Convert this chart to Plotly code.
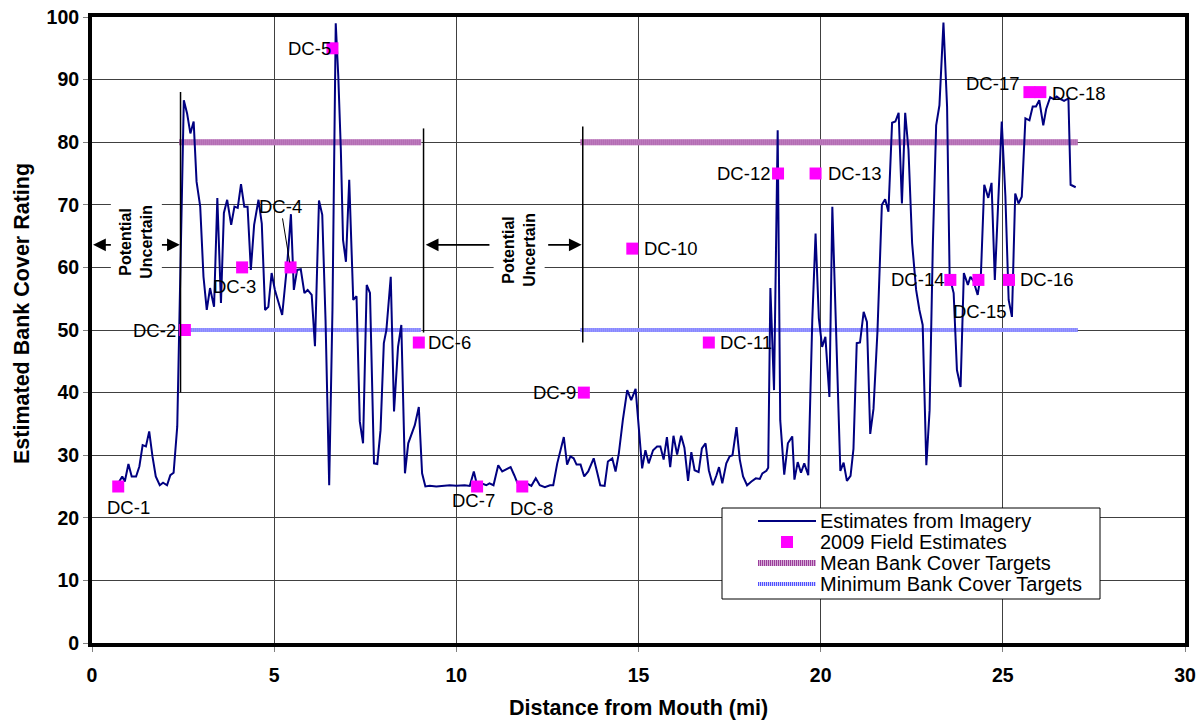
import plotly.graph_objects as go

# Bank cover estimates derived from imagery, by river mile
imagery_mi = [
    0.72, 0.83, 0.90, 1.00, 1.09, 1.21, 1.30, 1.39, 1.48, 1.57, 1.66, 1.75, 1.86, 1.95, 2.06,
    2.15, 2.24, 2.34, 2.52, 2.61, 2.70, 2.79, 2.87, 2.97, 3.06, 3.15, 3.24, 3.35, 3.44, 3.54,
    3.62, 3.71, 3.82, 3.91, 4.00, 4.09, 4.18, 4.27, 4.36, 4.45, 4.57, 4.66, 4.75, 4.84, 4.93,
    5.02, 5.11, 5.22, 5.36, 5.46, 5.54, 5.63, 5.73, 5.83, 5.92, 6.03, 6.12, 6.23, 6.32, 6.41,
    6.51, 6.60, 6.69, 6.76, 6.83, 6.89, 6.97, 7.06, 7.17, 7.26, 7.35, 7.44, 7.54, 7.63, 7.74,
    7.83, 7.92, 8.01, 8.08, 8.20, 8.29, 8.40, 8.49, 8.59, 8.68, 8.77, 8.86, 8.97, 9.06, 9.15,
    9.27, 9.45, 9.64, 9.82, 10.00, 10.23, 10.37, 10.48, 10.57, 10.69, 10.82, 10.91, 11.02, 11.15,
    11.26, 11.38, 11.49, 11.59, 11.68, 11.79, 11.93, 12.06, 12.18, 12.29, 12.43, 12.57, 12.66,
    12.77, 12.84, 12.95, 13.04, 13.13, 13.22, 13.30, 13.41, 13.51, 13.62, 13.77, 13.86, 13.95,
    14.07, 14.16, 14.28, 14.37, 14.46, 14.57, 14.69, 14.80, 14.92, 15.01, 15.10, 15.19, 15.28,
    15.40, 15.51, 15.60, 15.69, 15.78, 15.87, 15.96, 16.06, 16.17, 16.26, 16.36, 16.45, 16.54,
    16.65, 16.74, 16.84, 16.93, 17.04, 17.14, 17.21, 17.30, 17.41, 17.50, 17.58, 17.69, 17.78,
    17.87, 17.98, 18.10, 18.22, 18.33, 18.40, 18.51, 18.56, 18.62, 18.72, 18.82, 18.89, 19.00,
    19.10, 19.22, 19.28, 19.37, 19.46, 19.55, 19.66, 19.77, 19.86, 19.95, 20.04, 20.13, 20.24,
    20.32, 20.41, 20.54, 20.63, 20.72, 20.82, 20.90, 20.99, 21.08, 21.18, 21.27, 21.36, 21.45,
    21.56, 21.68, 21.77, 21.86, 21.96, 22.05, 22.14, 22.23, 22.32, 22.41, 22.51, 22.62, 22.71,
    22.80, 22.90, 22.99, 23.08, 23.17, 23.26, 23.37, 23.47, 23.54, 23.65, 23.74, 23.84, 23.93,
    24.04, 24.11, 24.19, 24.31, 24.40, 24.49, 24.60, 24.69, 24.78, 24.87, 24.97, 25.07, 25.16,
    25.25, 25.34, 25.43, 25.52, 25.62, 25.73, 25.82, 25.91, 26.00, 26.11, 26.19, 26.30, 26.39,
    26.48, 26.57, 26.68, 26.80, 26.86, 27.00,
]
imagery_rating = [
    25.5, 26.6, 25.8, 28.6, 26.6, 26.6, 28.2, 31.6, 31.4, 33.8, 29.8, 26.6, 25.2, 25.6, 25.2,
    26.8, 27.2, 34.6, 86.7, 84.6, 81.4, 83.3, 73.7, 69.7, 58.5, 53.2, 56.7, 53.7, 71.1, 54.3,
    68.7, 70.8, 66.8, 69.7, 69.5, 73.3, 69.7, 69.7, 59.6, 66.8, 70.8, 67.0, 53.2, 53.7, 59.1,
    56.4, 54.6, 52.4, 60.7, 68.5, 56.4, 59.6, 59.7, 55.9, 56.4, 55.6, 47.4, 70.7, 68.4, 51.6,
    25.2, 53.2, 99.0, 90.5, 78.8, 64.4, 60.9, 74.0, 54.8, 55.4, 35.4, 31.9, 57.2, 55.9, 28.7,
    28.6, 34.0, 47.9, 50.0, 58.5, 37.0, 47.3, 50.8, 27.1, 31.9, 33.5, 34.8, 37.7, 27.1, 25.0,
    25.1, 25.0, 25.1, 25.2, 25.1, 25.2, 25.1, 27.4, 25.2, 25.5, 25.2, 25.5, 25.2, 28.4,
    27.4, 27.8, 28.1, 26.8, 25.5, 25.2, 25.5, 25.1, 26.3, 25.2, 24.9, 25.2, 25.2,
    28.7, 30.3, 32.9, 28.5, 29.8, 29.5, 28.5, 28.5, 26.6, 27.4, 29.5, 27.4, 25.2,
    25.1, 29.0, 29.5, 27.4, 30.3, 35.6, 40.4, 38.8, 40.6, 34.0, 27.9, 30.8, 28.7,
    30.8, 31.4, 31.4, 29.3, 32.9, 28.1, 33.1, 30.1, 33.1, 31.2, 25.9, 30.5, 27.6,
    27.3, 31.1, 31.9, 27.6, 25.2, 26.8, 28.1, 25.5, 28.7, 29.8, 30.0, 34.5, 29.3,
    26.6, 25.2, 25.8, 26.3, 26.2, 27.1, 27.5, 28.0, 56.7, 40.4, 81.9, 35.6, 26.9,
    31.9, 33.0, 26.1, 28.9, 27.2, 28.7, 26.8, 51.6, 65.4, 51.9, 47.3, 48.9, 39.3,
    69.7, 52.7, 27.5, 28.8, 25.9, 26.7, 31.0, 47.9, 48.0, 52.9, 51.3, 33.4, 37.4,
    49.9, 70.0, 70.9, 68.9, 83.1, 83.3, 84.7, 70.2, 84.7, 78.8, 63.9, 56.4, 53.2,
    50.8, 28.4, 37.2, 63.9, 82.7, 85.9, 99.1, 85.6, 58.5, 55.9, 43.6, 40.9, 59.1,
    57.2, 58.5, 57.9, 55.6, 59.1, 73.2, 71.1, 73.5, 58.0, 69.2, 83.3, 71.4, 54.8,
    52.1, 71.8, 70.2, 71.3, 83.8, 83.5, 85.7, 85.7, 86.7, 82.7, 85.3, 87.2, 86.9,
    87.3, 86.9, 86.6, 87.0, 73.2, 72.8,
]

# 2009 field estimates
field_sites = ["DC-1", "DC-2", "DC-3", "DC-4", "DC-5", "DC-6", "DC-7", "DC-8", "DC-9",
               "DC-10", "DC-11", "DC-12", "DC-13", "DC-14", "DC-15", "DC-16", "DC-17", "DC-18"]
field_mi = [0.72, 2.55, 4.12, 5.45, 6.60, 8.97, 10.57, 11.81, 13.50,
            14.83, 16.93, 18.83, 19.86, 23.56, 24.33, 25.17, 25.73, 26.03]
field_rating = [25, 50, 60, 60, 95, 48, 25, 25, 40,
                63, 48, 75, 75, 58, 58, 58, 88, 88]

# Target reaches and levels
target_reaches = [(2.40, 9.04), (13.41, 27.05)]
mean_target = 80
min_target = 50

# Extent of the uncertain reaches (mi) and the rating range of their boundary lines
uncertain_bounds = [(2.43, 40, 88), (9.10, 49.6, 82.2), (13.47, 48, 82.5)]
uncertain_arrows = [(0.58, 0.03), (1.87, 2.41), (10.95, 9.16), (12.48, 13.44)]
uncertain_labels = [(1.21, 64.1), (11.72, 62.8)]
arrow_level = 63.6

FONT = "Liberation Sans, Arial, sans-serif"
MEAN_BASE, MEAN_DOT = "#D6AAD6", "#9A3D9A"
MIN_BASE, MIN_DOT = "#CFCFFF", "#5050FF"

L, R, T, B = 92, 16, 17, 78
W, H = 1201, 721

fig = go.Figure()


def reach_series(level):
    xs, ys = [], []
    for a, b in target_reaches:
        xs += [a, b, None]
        ys += [level, level, None]
    return xs, ys


mx, my = reach_series(mean_target)
nx, ny = reach_series(min_target)
fig.add_trace(go.Scatter(x=mx, y=my, mode="lines", line=dict(color=MEAN_BASE, width=6),
                         hoverinfo="skip", showlegend=False))
fig.add_trace(go.Scatter(x=mx, y=my, mode="lines",
                         line=dict(color=MEAN_DOT, width=6, dash="1px,1px"),
                         name="Mean Bank Cover Targets", showlegend=False))
fig.add_trace(go.Scatter(x=nx, y=ny, mode="lines", line=dict(color=MIN_BASE, width=4),
                         hoverinfo="skip", showlegend=False))
fig.add_trace(go.Scatter(x=nx, y=ny, mode="lines",
                         line=dict(color=MIN_DOT, width=4, dash="1px,1px"),
                         name="Minimum Bank Cover Targets", showlegend=False))

fig.add_trace(go.Scatter(x=imagery_mi, y=imagery_rating, mode="lines",
                         line=dict(color="#000080", width=2),
                         name="Estimates from Imagery", showlegend=False))
fig.add_trace(go.Scatter(x=field_mi, y=field_rating, mode="markers",
                         marker=dict(symbol="square", size=12, color="#FF00FF"),
                         name="2009 Field Estimates", showlegend=False))

# Site labels: (xanchor, xshift, yshift)
label_place = {
    "DC-1": ("center", 10, -21), "DC-2": ("right", -7, 0), "DC-3": ("center", -8, -19),
    "DC-5": ("right", 1, 0), "DC-6": ("left", 7, 0), "DC-7": ("center", -4, -14),
    "DC-8": ("center", 9, -22), "DC-9": ("right", -6, 0), "DC-10": ("left", 10, 0),
    "DC-11": ("left", 9, 0), "DC-12": ("right", -6, 0), "DC-13": ("left", 10, 0),
    "DC-14": ("right", -4, 0), "DC-15": ("center", 1, -32), "DC-16": ("left", 9, 0),
    "DC-17": ("right", -8, 9), "DC-18": ("left", 10, -1),
}
for name, x, y in zip(field_sites, field_mi, field_rating):
    font = dict(family=FONT, size=18.5, color="#000000")
    if name == "DC-4":
        fig.add_annotation(x=x, y=y, xref="x", yref="y", text=name, showarrow=True,
                           arrowhead=0, arrowwidth=1, arrowcolor="#000000", standoff=5,
                           ax=-10, ay=-61, font=font)
        continue
    xa, xs, ys = label_place[name]
    fig.add_annotation(x=x, y=y, xref="x", yref="y", text=name, showarrow=False,
                       xanchor=xa, yanchor="middle", xshift=xs, yshift=ys, font=font)

# Uncertain reach boundaries, arrows and labels
for x, y0, y1 in uncertain_bounds:
    fig.add_shape(type="line", xref="x", yref="y", x0=x, x1=x, y0=y0, y1=y1,
                  line=dict(color="#000000", width=1.5))
for tail, head in uncertain_arrows:
    fig.add_annotation(x=head, y=arrow_level, ax=tail, ay=arrow_level, xref="x", yref="y",
                       axref="x", ayref="y", text="", showarrow=True, arrowhead=2,
                       arrowsize=1.5, arrowwidth=1.7, arrowcolor="#000000")
for x, y in uncertain_labels:
    fig.add_annotation(x=x, y=y, xref="x", yref="y", text="Potential<br>Uncertain",
                       showarrow=False, textangle=-90, bgcolor="#FFFFFF", borderpad=6,
                       xanchor="center", yanchor="middle",
                       font=dict(family=FONT, size=16, color="#000000", weight="bold"))

# Legend box
pw, ph = W - L - R, H - T - B


def px_x(p):
    return (p - L) / pw


def px_y(p):
    return (H - B - p) / ph


fig.add_shape(type="rect", xref="paper", yref="paper", x0=px_x(722), x1=px_x(1100),
              y0=px_y(599), y1=px_y(508), line=dict(color="#000000", width=1),
              fillcolor="#FFFFFF", layer="above")
legend_rows = [
    ("Estimates from Imagery", 521),
    ("2009 Field Estimates", 542),
    ("Mean Bank Cover Targets", 563),
    ("Minimum Bank Cover Targets", 584),
]
for text, ypx in legend_rows:
    fig.add_annotation(x=px_x(818), y=px_y(ypx), xref="paper", yref="paper", text=text,
                       showarrow=False, xanchor="left", yanchor="middle",
                       font=dict(family=FONT, size=20, color="#000000"))
lx0, lx1 = px_x(758), px_x(816)
fig.add_shape(type="line", xref="paper", yref="paper", x0=lx0, x1=lx1,
              y0=px_y(521), y1=px_y(521), line=dict(color="#000080", width=2), layer="above")
fig.add_shape(type="rect", xref="paper", yref="paper", x0=px_x(781), x1=px_x(793),
              y0=px_y(548), y1=px_y(536), line=dict(width=0), fillcolor="#FF00FF",
              layer="above")
fig.add_shape(type="line", xref="paper", yref="paper", x0=lx0, x1=lx1,
              y0=px_y(563), y1=px_y(563), line=dict(color=MEAN_BASE, width=6), layer="above")
fig.add_shape(type="line", xref="paper", yref="paper", x0=lx0, x1=lx1,
              y0=px_y(563), y1=px_y(563), line=dict(color=MEAN_DOT, width=6, dash="1px,1px"),
              layer="above")
fig.add_shape(type="line", xref="paper", yref="paper", x0=lx0, x1=lx1,
              y0=px_y(584), y1=px_y(584), line=dict(color=MIN_BASE, width=4), layer="above")
fig.add_shape(type="line", xref="paper", yref="paper", x0=lx0, x1=lx1,
              y0=px_y(584), y1=px_y(584), line=dict(color=MIN_DOT, width=4, dash="1px,1px"),
              layer="above")

# Axis titles
fig.add_annotation(x=px_x(638), y=px_y(708), xref="paper", yref="paper",
                   text="Distance from Mouth (mi)", showarrow=False,
                   xanchor="center", yanchor="middle",
                   font=dict(family=FONT, size=21.5, color="#000000", weight="bold"))
fig.add_annotation(x=px_x(22), y=px_y(314), xref="paper", yref="paper",
                   text="Estimated Bank Cover Rating", showarrow=False, textangle=-90,
                   xanchor="center", yanchor="middle",
                   font=dict(family=FONT, size=21.5, color="#000000", weight="bold"))

axis_common = dict(
    showgrid=True, gridcolor="#404040", gridwidth=1, zeroline=False,
    showline=True, linecolor="#000000", linewidth=4, mirror=True,
    ticks="outside", ticklen=5, tickcolor="#808080", tickwidth=1,
    tickfont=dict(family=FONT, size=19.5, color="#000000", weight="bold"),
    automargin=False,
)
fig.update_xaxes(range=[0, 30], dtick=5, tick0=0, ticklabelstandoff=7, **axis_common)
fig.update_yaxes(range=[0, 100], dtick=10, tick0=0, **axis_common)

fig.update_layout(
    width=W, height=H,
    margin=dict(l=L, r=R, t=T, b=B, autoexpand=False),
    paper_bgcolor="#FFFFFF", plot_bgcolor="#FFFFFF",
    showlegend=False,
    font=dict(family=FONT),
)

fig.write_html("out.html")
